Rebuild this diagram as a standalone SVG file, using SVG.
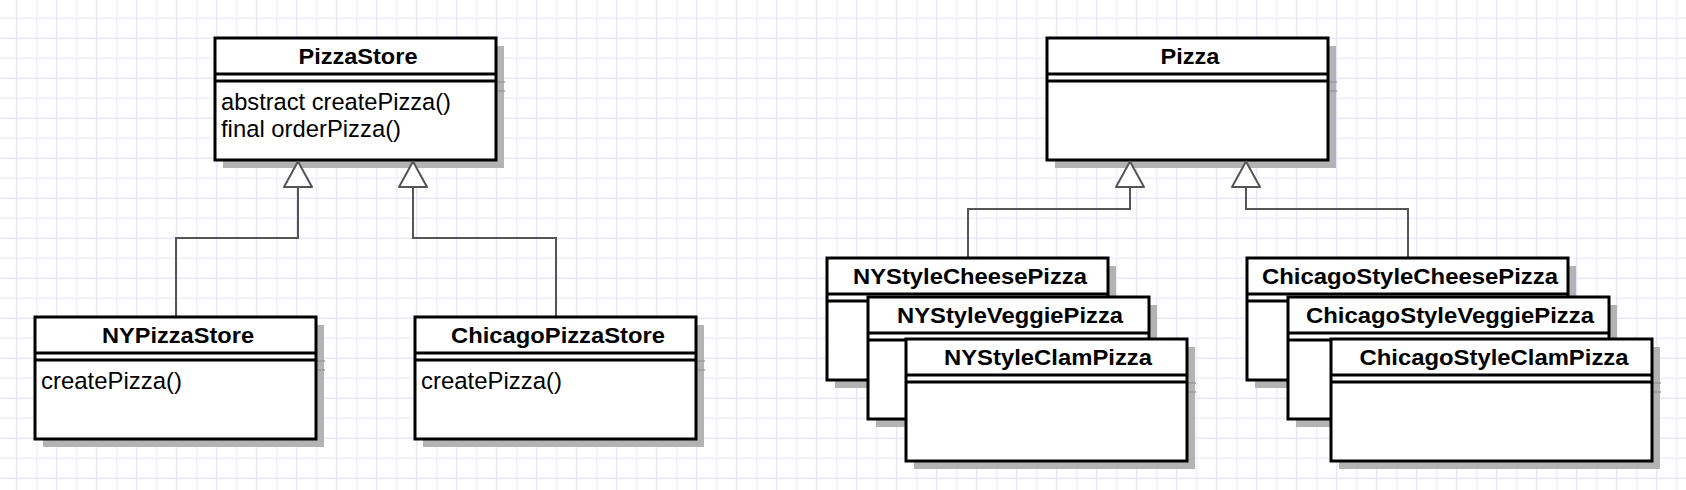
<svg xmlns="http://www.w3.org/2000/svg" width="1686" height="490" viewBox="0 0 1686 490">
<defs>
<pattern id="grid" patternUnits="userSpaceOnUse" x="0" y="0" width="40" height="40">
<rect width="40" height="40" fill="#ffffff"/>
<path d="M36.7,0V40M0,18.3H40" stroke="#f0f0fc" stroke-width="1.6"/>
<path d="M16.7,0V40M0,38.3H40" stroke="#e8e8f9" stroke-width="1.6"/>
</pattern>
<style>
.box{fill:#ffffff;stroke:#000000;stroke-width:3}
.shadow{fill:#b3b3b3}
.stub{stroke:#9a9a9a;stroke-width:1.5}
.sep{stroke:#000000;stroke-width:3}
.ttl{font-family:"Liberation Sans",Arial,sans-serif;font-weight:bold;font-size:22.5px;text-anchor:middle;fill:#000}
.mth{font-family:"Liberation Sans",Arial,sans-serif;font-size:24.5px;fill:#000}
.conn{fill:none;stroke:#555555;stroke-width:2}
.tri{fill:#ffffff;stroke:#555555;stroke-width:2;stroke-linejoin:round}
</style>
</defs>
<rect width="1686" height="490" fill="url(#grid)"/>

<g id="connectors">
<path class="conn" d="M298,187V238H176V317"/>
<path class="conn" d="M413,187V238H556V317"/>
<path class="conn" d="M1130,187V209H968V258"/>
<path class="conn" d="M1246,187V209H1408V258"/>
</g>

<g id="PizzaStore">
<rect class="shadow" x="223" y="46" width="281" height="122"/>
<line class="stub" x1="497" y1="82" x2="505" y2="82"/><line class="stub" x1="497" y1="91" x2="505" y2="91"/>
<rect class="box" x="215" y="38" width="281" height="122"/>
<line class="sep" x1="215" y1="74" x2="496" y2="74"/><line class="sep" x1="215" y1="81" x2="496" y2="81"/>
<text class="ttl" x="358" y="63.5" textLength="119" lengthAdjust="spacingAndGlyphs">PizzaStore</text>
<text class="mth" x="221" y="110" textLength="230" lengthAdjust="spacingAndGlyphs">abstract createPizza()</text>
<text class="mth" x="221" y="137" textLength="180" lengthAdjust="spacingAndGlyphs">final orderPizza()</text>
</g>

<g id="NYPizzaStore">
<rect class="shadow" x="43" y="325" width="281" height="122"/>
<line class="stub" x1="317" y1="361" x2="325" y2="361"/><line class="stub" x1="317" y1="370" x2="325" y2="370"/>
<rect class="box" x="35" y="317" width="281" height="122"/>
<line class="sep" x1="35" y1="353" x2="316" y2="353"/><line class="sep" x1="35" y1="360" x2="316" y2="360"/>
<text class="ttl" x="178" y="343" textLength="152" lengthAdjust="spacingAndGlyphs">NYPizzaStore</text>
<text class="mth" x="41" y="389" textLength="141" lengthAdjust="spacingAndGlyphs">createPizza()</text>
</g>

<g id="ChicagoPizzaStore">
<rect class="shadow" x="423" y="325" width="281" height="122"/>
<line class="stub" x1="697" y1="361" x2="705" y2="361"/><line class="stub" x1="697" y1="370" x2="705" y2="370"/>
<rect class="box" x="415" y="317" width="281" height="122"/>
<line class="sep" x1="415" y1="353" x2="696" y2="353"/><line class="sep" x1="415" y1="360" x2="696" y2="360"/>
<text class="ttl" x="558" y="343" textLength="214" lengthAdjust="spacingAndGlyphs">ChicagoPizzaStore</text>
<text class="mth" x="421" y="389" textLength="141" lengthAdjust="spacingAndGlyphs">createPizza()</text>
</g>

<g id="Pizza">
<rect class="shadow" x="1055" y="46" width="281" height="122"/>
<line class="stub" x1="1329" y1="82" x2="1337" y2="82"/><line class="stub" x1="1329" y1="91" x2="1337" y2="91"/>
<rect class="box" x="1047" y="38" width="281" height="122"/>
<line class="sep" x1="1047" y1="74" x2="1328" y2="74"/><line class="sep" x1="1047" y1="81" x2="1328" y2="81"/>
<text class="ttl" x="1190" y="64" textLength="59" lengthAdjust="spacingAndGlyphs">Pizza</text>
</g>

<g id="NYStyleCheesePizza">
<rect class="shadow" x="835" y="266" width="281" height="122"/>
<line class="stub" x1="1109" y1="302" x2="1117" y2="302"/><line class="stub" x1="1109" y1="311" x2="1117" y2="311"/>
<rect class="box" x="827" y="258" width="281" height="122"/>
<line class="sep" x1="827" y1="294" x2="1108" y2="294"/><line class="sep" x1="827" y1="301" x2="1108" y2="301"/>
<text class="ttl" x="970" y="283.5" textLength="234" lengthAdjust="spacingAndGlyphs">NYStyleCheesePizza</text>
</g>

<g id="NYStyleVeggiePizza">
<rect class="shadow" x="876" y="305" width="281" height="122"/>
<line class="stub" x1="1150" y1="341" x2="1158" y2="341"/><line class="stub" x1="1150" y1="350" x2="1158" y2="350"/>
<rect class="box" x="868" y="297" width="281" height="122"/>
<line class="sep" x1="868" y1="333" x2="1149" y2="333"/><line class="sep" x1="868" y1="340" x2="1149" y2="340"/>
<text class="ttl" x="1010" y="322.5" textLength="226" lengthAdjust="spacingAndGlyphs">NYStyleVeggiePizza</text>
</g>

<g id="NYStyleClamPizza">
<rect class="shadow" x="914" y="347" width="281" height="122"/>
<line class="stub" x1="1188" y1="383" x2="1196" y2="383"/><line class="stub" x1="1188" y1="392" x2="1196" y2="392"/>
<rect class="box" x="906" y="339" width="281" height="122"/>
<line class="sep" x1="906" y1="375" x2="1187" y2="375"/><line class="sep" x1="906" y1="382" x2="1187" y2="382"/>
<text class="ttl" x="1048" y="364.5" textLength="208" lengthAdjust="spacingAndGlyphs">NYStyleClamPizza</text>
</g>

<g id="ChicagoStyleCheesePizza">
<rect class="shadow" x="1255" y="266" width="321" height="122"/>
<line class="stub" x1="1569" y1="302" x2="1577" y2="302"/><line class="stub" x1="1569" y1="311" x2="1577" y2="311"/>
<rect class="box" x="1247" y="258" width="321" height="122"/>
<line class="sep" x1="1247" y1="294" x2="1568" y2="294"/><line class="sep" x1="1247" y1="301" x2="1568" y2="301"/>
<text class="ttl" x="1410" y="283.5" textLength="296" lengthAdjust="spacingAndGlyphs">ChicagoStyleCheesePizza</text>
</g>

<g id="ChicagoStyleVeggiePizza">
<rect class="shadow" x="1296" y="305" width="321" height="122"/>
<line class="stub" x1="1610" y1="341" x2="1618" y2="341"/><line class="stub" x1="1610" y1="350" x2="1618" y2="350"/>
<rect class="box" x="1288" y="297" width="321" height="122"/>
<line class="sep" x1="1288" y1="333" x2="1609" y2="333"/><line class="sep" x1="1288" y1="340" x2="1609" y2="340"/>
<text class="ttl" x="1450" y="322.5" textLength="288" lengthAdjust="spacingAndGlyphs">ChicagoStyleVeggiePizza</text>
</g>

<g id="ChicagoStyleClamPizza">
<rect class="shadow" x="1339" y="347" width="321" height="122"/>
<line class="stub" x1="1653" y1="383" x2="1661" y2="383"/><line class="stub" x1="1653" y1="392" x2="1661" y2="392"/>
<rect class="box" x="1331" y="339" width="321" height="122"/>
<line class="sep" x1="1331" y1="375" x2="1652" y2="375"/><line class="sep" x1="1331" y1="382" x2="1652" y2="382"/>
<text class="ttl" x="1494" y="364.5" textLength="269" lengthAdjust="spacingAndGlyphs">ChicagoStyleClamPizza</text>
</g>

<g id="arrowheads">
<polygon class="tri" points="298,161.5 312,187 284,187"/>
<polygon class="tri" points="413,161.5 427,187 399,187"/>
<polygon class="tri" points="1130,161.5 1144,187 1116,187"/>
<polygon class="tri" points="1246,161.5 1260,187 1232,187"/>
</g>
</svg>
